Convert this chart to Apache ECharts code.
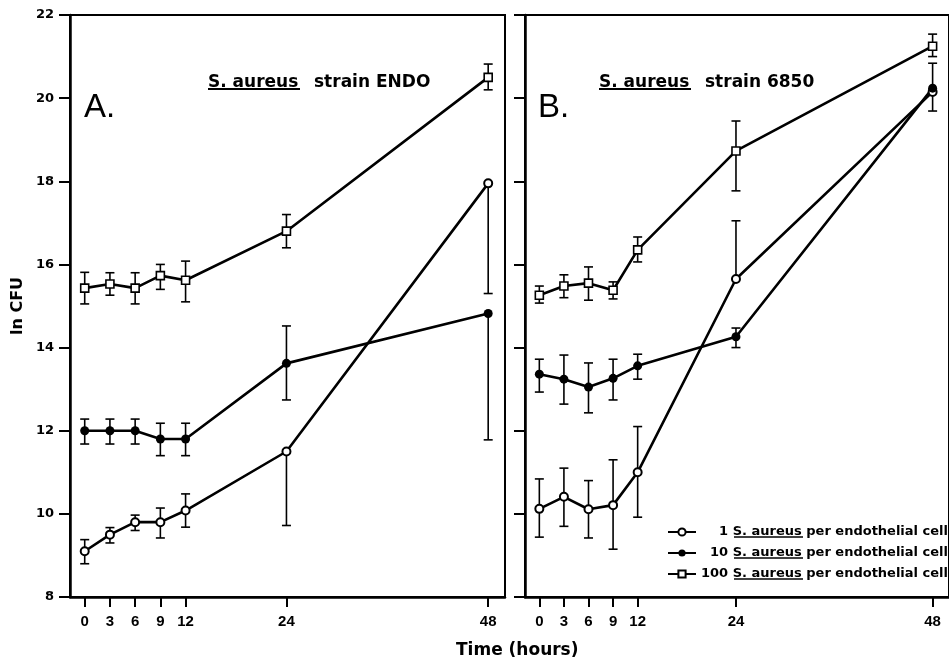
<!DOCTYPE html>
<html>
<head>
<meta charset="utf-8">
<title>S. aureus growth</title>
<script src="https://cdn.jsdelivr.net/npm/echarts@6/dist/echarts.min.js"></script>
<style>
  html, body { margin: 0; padding: 0; background: #fff; }
  #chart { width: 949px; height: 660px; }
</style>
</head>
<body>
<div id="chart"></div>
<script>
// sampling times (hours)
const hours = [0, 3, 6, 9, 12, 24, 48];
const yTicks = [8, 10, 12, 14, 16, 18, 20, 22];

// panel A - strain ENDO  (ln CFU, upper / lower error)
const endo1 = [9.1, 9.5, 9.8, 9.8, 10.08, 11.5, 17.95];
const endo1Up = [0.28, 0.17, 0.17, 0.34, 0.4, 0, 0];
const endo1Dn = [0.3, 0.2, 0.2, 0.38, 0.4, 1.78, 2.65];
const endo10 = [12.0, 12.0, 12.0, 11.8, 11.8, 13.62, 14.82];
const endo10Up = [0.28, 0.28, 0.28, 0.38, 0.38, 0.9, 0];
const endo10Dn = [0.32, 0.32, 0.32, 0.4, 0.4, 0.88, 3.04];
const endo100 = [15.43, 15.53, 15.43, 15.73, 15.62, 16.8, 20.5];
const endo100Up = [0.38, 0.27, 0.37, 0.27, 0.46, 0.4, 0.32];
const endo100Dn = [0.38, 0.27, 0.38, 0.33, 0.52, 0.4, 0.3];

// panel B - strain 6850
const s6850_1 = [10.12, 10.41, 10.11, 10.21, 11.0, 15.65, 20.15];
const s6850_1Up = [0.72, 0.69, 0.69, 1.09, 1.1, 1.4, 0];
const s6850_1Dn = [0.68, 0.71, 0.69, 1.06, 1.08, 0, 0.46];
const s6850_10 = [13.36, 13.24, 13.05, 13.26, 13.56, 14.26, 20.24];
const s6850_10Up = [0.36, 0.58, 0.58, 0.46, 0.28, 0.21, 0.6];
const s6850_10Dn = [0.43, 0.6, 0.62, 0.52, 0.32, 0.26, 0];
const s6850_100 = [15.26, 15.48, 15.55, 15.38, 16.35, 18.73, 21.25];
const s6850_100Up = [0.22, 0.27, 0.39, 0.2, 0.31, 0.72, 0.29];
const s6850_100Dn = [0.19, 0.28, 0.41, 0.21, 0.29, 0.96, 0.25];

const legendNames = ['1', '10', '100'];

const chart = echarts.init(document.getElementById('chart'));

const markStyles = {
  '1': { symbol: 'emptyCircle', symbolSize: 8, itemStyle: { color: '#000', borderWidth: 1.6 } },
  '10': { symbol: 'circle', symbolSize: 9, itemStyle: { color: '#000' } },
  '100': { symbol: 'rect', symbolSize: 8, itemStyle: { color: '#fff', borderColor: '#000', borderWidth: 1.6 } }
};

function lineSeries(name, vals, gi) {
  return Object.assign({
    name: name,
    type: 'line',
    xAxisIndex: gi,
    yAxisIndex: gi,
    data: hours.map((h, i) => [h, vals[i]]),
    lineStyle: { color: '#000', width: 2.6 },
    z: 3,
    animation: false
  }, markStyles[name]);
}

// error bars, caps only where a bar is drawn
function errSeries(vals, up, dn, gi) {
  return {
    type: 'custom',
    xAxisIndex: gi,
    yAxisIndex: gi,
    z: 2,
    silent: true,
    animation: false,
    encode: { x: 0, y: [2, 3] },
    data: hours.map((h, i) => [h, vals[i], vals[i] - dn[i], vals[i] + up[i]]),
    renderItem: function (params, api) {
      const x = api.value(0), v = api.value(1), lo = api.value(2), hi = api.value(3);
      const pLo = api.coord([x, lo]);
      const pHi = api.coord([x, hi]);
      const st = { stroke: '#000', lineWidth: 1.6 };
      const kids = [{ type: 'line', shape: { x1: pLo[0], y1: pLo[1], x2: pHi[0], y2: pHi[1] }, style: st }];
      if (lo < v) kids.push({ type: 'line', shape: { x1: pLo[0] - 4.5, y1: pLo[1], x2: pLo[0] + 4.5, y2: pLo[1] }, style: st });
      if (hi > v) kids.push({ type: 'line', shape: { x1: pHi[0] - 4.5, y1: pHi[1], x2: pHi[0] + 4.5, y2: pHi[1] }, style: st });
      return { type: 'group', children: kids };
    }
  };
}

function xAxis(gi) {
  return {
    type: 'value',
    gridIndex: gi,
    min: -1.75,
    max: 50,
    splitLine: { show: false },
    axisLine: { onZero: false, lineStyle: { color: '#000', width: 2.5 } },
    axisTick: { customValues: hours, length: 10, lineStyle: { color: '#000', width: 2 } },
    axisLabel: {
      customValues: hours, margin: 17, color: '#000',
      fontFamily: 'Liberation Sans', fontWeight: 'bold', fontSize: 15
    }
  };
}

function yAxis(gi) {
  return {
    type: 'value',
    gridIndex: gi,
    min: 8,
    max: 22,
    interval: 2,
    splitLine: { show: false },
    axisLine: { onZero: false, lineStyle: { color: '#000', width: 2.5 } },
    axisTick: { length: 11, lineStyle: { color: '#000', width: 2 } },
    axisLabel: {
      show: gi === 0, customValues: yTicks, margin: 16, color: '#000',
      fontFamily: 'DejaVu Sans', fontWeight: 'bold', fontSize: 13
    },
    name: gi === 0 ? 'ln CFU' : '',
    nameLocation: 'middle',
    nameGap: 44,
    nameTextStyle: { color: '#000', fontFamily: 'DejaVu Sans', fontWeight: 'bold', fontSize: 16 }
  };
}

const titleFont = 'bold 17px "DejaVu Sans"';
function txt(x, y, s, font) {
  return { type: 'text', x: x, y: y, style: { text: s, font: font, fill: '#000', verticalAlign: 'bottom' } };
}
function uline(x1, x2, y, w) {
  return { type: 'line', shape: { x1: x1, y1: y, x2: x2, y2: y }, style: { stroke: '#000', lineWidth: w } };
}

// right-align the counts with figure spaces
function padNum(name) {
  return '\u2007'.repeat(3 - name.length) + name;
}

chart.setOption({
  backgroundColor: '#fff',
  animation: false,
  grid: [
    { left: 70, right: 444, top: 15, bottom: 63, show: true, borderColor: '#000', borderWidth: 2 },
    { left: 525, right: -11, top: 15, bottom: 63, show: true, borderColor: '#000', borderWidth: 2 }
  ],
  xAxis: [xAxis(0), xAxis(1)],
  yAxis: [yAxis(0), yAxis(1)],
  legend: {
    data: legendNames,
    orient: 'vertical',
    left: 662,
    top: 520,
    itemWidth: 28,
    itemHeight: 9,
    itemGap: 7,
    selectedMode: false,
    formatter: function (name) {
      return padNum(name) + ' S. aureus per endothelial cell';
    },
    textStyle: {
      color: '#000', fontFamily: 'DejaVu Sans', fontWeight: 'bold', fontSize: 13, lineHeight: 14
    }
  },
  graphic: [
    txt(84, 124, 'A.', '33px "Liberation Sans"'),
    txt(208, 91, 'S. aureus', titleFont),
    txt(314, 91, 'strain ENDO', titleFont),
    uline(208, 300, 89, 2),
    txt(538, 124, 'B.', '33px "Liberation Sans"'),
    txt(599, 91, 'S. aureus', titleFont),
    txt(705, 91, 'strain 6850', titleFont),
    uline(599, 691, 89, 2),
    uline(734, 803, 537, 1.5),
    uline(734, 803, 558, 1.5),
    uline(734, 803, 579, 1.5),
    txt(456, 659, 'Time (hours)', 'bold 17px "DejaVu Sans"')
  ],
  series: [
    errSeries(endo1, endo1Up, endo1Dn, 0),
    errSeries(endo10, endo10Up, endo10Dn, 0),
    errSeries(endo100, endo100Up, endo100Dn, 0),
    errSeries(s6850_1, s6850_1Up, s6850_1Dn, 1),
    errSeries(s6850_10, s6850_10Up, s6850_10Dn, 1),
    errSeries(s6850_100, s6850_100Up, s6850_100Dn, 1),
    lineSeries('1', endo1, 0),
    lineSeries('10', endo10, 0),
    lineSeries('100', endo100, 0),
    lineSeries('1', s6850_1, 1),
    lineSeries('10', s6850_10, 1),
    lineSeries('100', s6850_100, 1)
  ]
});
</script>
</body>
</html>
